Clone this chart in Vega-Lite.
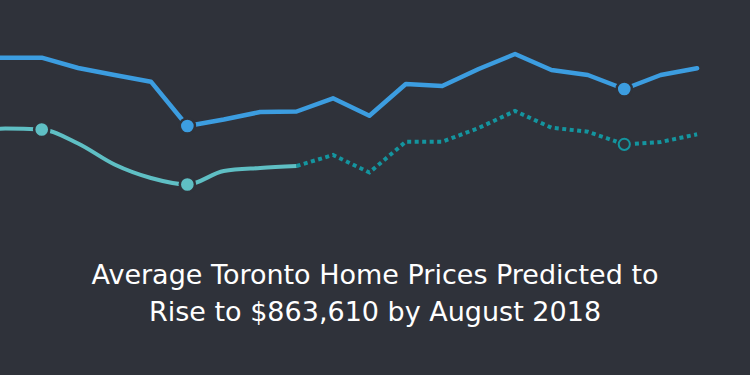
{
  "$schema": "https://vega.github.io/schema/vega-lite/v6.json",
  "width": 750,
  "height": 375,
  "autosize": {"type": "none"},
  "padding": 0,
  "background": "#2f323a",
  "config": {"view": {"stroke": null}},
  "title": {
    "text": ["Average Toronto Home Prices Predicted to", "Rise to $863,610 by August 2018"],
    "orient": "bottom",
    "anchor": "middle",
    "font": "DejaVu Sans",
    "fontSize": 27,
    "fontWeight": 400,
    "color": "#ffffff",
    "lineHeight": 36.5,
    "baseline": "alphabetic",
    "offset": -91
  },
  "datasets": {
    "blue": [
      {"month": -1, "price": 907.7}, {"month": 0, "price": 907.7}, {"month": 1, "price": 907.7},
      {"month": 2, "price": 891.2}, {"month": 3, "price": 880}, {"month": 4, "price": 869.3},
      {"month": 5, "price": 798.4}, {"month": 6, "price": 808.8}, {"month": 7, "price": 820.8},
      {"month": 8, "price": 821.6}, {"month": 9, "price": 842.7}, {"month": 10, "price": 814.9},
      {"month": 11, "price": 865.6}, {"month": 12, "price": 862.4}, {"month": 13, "price": 889.6},
      {"month": 14, "price": 913.6}, {"month": 15, "price": 888}, {"month": 16, "price": 880},
      {"month": 17, "price": 857.6}, {"month": 18, "price": 880}, {"month": 19, "price": 890.7}
    ],
    "tealActual": [
      {"month": -1, "price": 776}, {"month": 0, "price": 794.4}, {"month": 1, "price": 792.8},
      {"month": 2, "price": 770.4}, {"month": 3, "price": 736.8}, {"month": 4, "price": 715.2},
      {"month": 5, "price": 704.8}, {"month": 6, "price": 726.4}, {"month": 7, "price": 731.2},
      {"month": 8, "price": 734.4}
    ],
    "tealForecast": [
      {"month": 8, "price": 734.4}, {"month": 9, "price": 752}, {"month": 10, "price": 724},
      {"month": 11, "price": 773.3}, {"month": 12, "price": 773.3}, {"month": 13, "price": 795.2},
      {"month": 14, "price": 822.4}, {"month": 15, "price": 795.7}, {"month": 16, "price": 789.3},
      {"month": 17, "price": 769.1}, {"month": 18, "price": 772.8}, {"month": 19, "price": 785.1}
    ],
    "markers": [
      {"month": 5, "price": 798.4, "series": "blue"},
      {"month": 17, "price": 857.6, "series": "blue"},
      {"month": 1, "price": 792.8, "series": "teal"},
      {"month": 5, "price": 704.8, "series": "teal"}
    ],
    "openMarker": [
      {"month": 17, "price": 769.1}
    ]
  },
  "encoding": {
    "x": {"field": "month", "type": "quantitative", "axis": null, "scale": {"domain": [-0.1456, 20.453], "nice": false, "zero": false}},
    "y": {"field": "price", "type": "quantitative", "axis": null, "scale": {"domain": [400, 1000], "nice": false, "zero": false}}
  },
  "layer": [
    {
      "data": {"name": "blue"},
      "mark": {"type": "line", "color": "#3c9de0", "strokeWidth": 4.5, "strokeCap": "round", "strokeJoin": "round", "clip": true}
    },
    {
      "data": {"name": "tealActual"},
      "mark": {"type": "line", "color": "#5fbfc4", "strokeWidth": 4, "interpolate": "monotone", "strokeCap": "butt", "clip": true}
    },
    {
      "data": {"name": "tealForecast"},
      "mark": {"type": "line", "color": "#14959f", "strokeWidth": 4, "strokeDash": [4, 3.5], "strokeCap": "butt", "clip": true}
    },
    {
      "data": {"name": "markers"},
      "mark": {"type": "point", "shape": "circle", "filled": true, "size": 230, "stroke": "#2f323a", "strokeWidth": 2.5, "opacity": 1},
      "encoding": {
        "fill": {"field": "series", "type": "nominal", "scale": {"domain": ["blue", "teal"], "range": ["#3c9de0", "#5fbfc4"]}, "legend": null}
      }
    },
    {
      "data": {"name": "openMarker"},
      "mark": {"type": "point", "shape": "circle", "filled": true, "size": 280, "color": "#2f323a", "opacity": 1}
    },
    {
      "data": {"name": "openMarker"},
      "mark": {"type": "point", "shape": "circle", "filled": false, "size": 125, "stroke": "#14959f", "strokeWidth": 2, "fill": "#2f323a", "opacity": 1}
    }
  ]
}
